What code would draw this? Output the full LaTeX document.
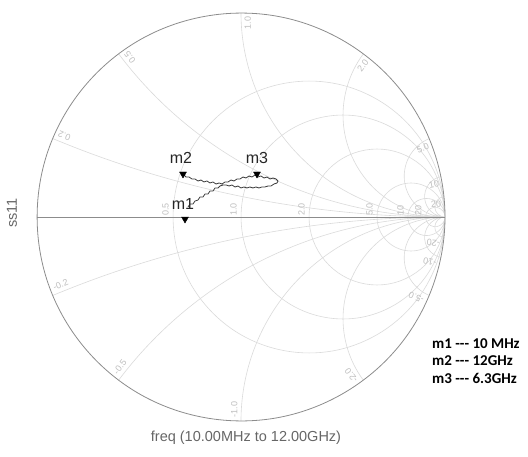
\documentclass[border=0pt]{standalone}
\usepackage{pgfplots}
\pgfplotsset{compat=1.18}
\usepgfplotslibrary{smithchart}
\usepackage{fontspec}
\setmainfont{Liberation Sans}
\newfontfamily\legfont{Carlito}
\definecolor{gridc}{RGB}{218,218,218}
\definecolor{labc}{RGB}{190,190,190}
\definecolor{rimc}{RGB}{140,140,140}
\definecolor{tracec}{RGB}{60,60,60}
\begin{document}
\begin{tikzpicture}[x=1pt,y=1pt]
\path[use as bounding box] (0,0) rectangle (528,456);
\begin{smithchart}[
  at={(241pt,239pt)}, anchor=center,
  scale only axis, width=408pt, height=408pt,
  show origin=false,
  show origin code/.code={},
  xtick={0.5,1,2,5,10,20},
  xticklabels={0.5,1.0,2.0,5.0,10,20},
  ytick={-20,-10,-5,-2,-1,-0.5,-0.2,0.2,0.5,1,2,5,10,20},
  yticklabels={-20,-10,-5.0,-2.0,-1.0,-0.5,-0.2,0.2,0.5,1.0,2.0,5.0,10,20},
  major tick length=0pt,
  grid style={gridc, line width=0.6pt},
  major grid style={gridc, line width=0.6pt},
  axis line style={rimc, line width=0.8pt},
  ticklabel style={font=\fontsize{9}{10}\selectfont, text=labc},
  xticklabel style={rotate=90, anchor=south west, inner sep=1pt, yshift=3pt},
]
\addplot[is smithchart cs, rimc, line width=0.8pt] coordinates {(-1,0) (1,0)};
\addplot[is smithchart cs, tracec, line width=0.8pt] coordinates {
(-0.2598,0.0490) (-0.2500,0.0637) (-0.2353,0.0637) (-0.2255,0.0784) (-0.2108,0.0833)
(-0.2010,0.0980) (-0.1863,0.0980) (-0.1765,0.1127) (-0.1618,0.1127) (-0.1520,0.1275)
(-0.1373,0.1275) (-0.1275,0.1422) (-0.1127,0.1422) (-0.1029,0.1520) (-0.0882,0.1569)
(-0.0735,0.1569) (-0.0588,0.1520) (-0.0441,0.1569) (-0.0294,0.1471) (-0.0147,0.1520)
(0.0000,0.1422) (0.0147,0.1471) (0.0294,0.1422) (0.0441,0.1471) (0.0588,0.1422)
(0.0735,0.1471) (0.0882,0.1422) (0.1029,0.1471) (0.1176,0.1471) (0.1324,0.1520)
(0.1471,0.1520) (0.1618,0.1618) (0.1765,0.1667) (0.1814,0.1765)
(0.1716,0.1863) (0.1569,0.1912) (0.1422,0.1863) (0.1275,0.1961) (0.1127,0.1912)
(0.0980,0.2010) (0.0833,0.1961) (0.0686,0.2059) (0.0539,0.1961) (0.0392,0.2010)
(0.0245,0.1912) (0.0098,0.1961) (-0.0049,0.1863) (-0.0196,0.1863) (-0.0343,0.1765)
(-0.0490,0.1814) (-0.0637,0.1716) (-0.0784,0.1716) (-0.0931,0.1618)
(-0.1078,0.1667) (-0.1225,0.1618) (-0.1373,0.1716) (-0.1520,0.1667) (-0.1667,0.1765)
(-0.1814,0.1716) (-0.1961,0.1814) (-0.2108,0.1765) (-0.2255,0.1863) (-0.2402,0.1863)
(-0.2549,0.1961) (-0.2696,0.1961) (-0.2794,0.2059)
};
\addplot[is smithchart cs, only marks, mark=triangle*, mark size=4pt,
  mark options={rotate=180, fill=black, draw=black}] coordinates {
(-0.2745,-0.0098) (-0.2843,0.2108) (0.0784,0.2108)
};
\end{smithchart}
\node[font=\fontsize{16}{18}\selectfont, text=black!85] at (183,252) {m1};
\node[font=\fontsize{16}{18}\selectfont, text=black!85] at (181,298) {m2};
\node[font=\fontsize{16}{18}\selectfont, text=black!85] at (257,298) {m3};
\node[rotate=90, font=\fontsize{14.5}{16}\selectfont, text=black!60] at (12,243) {ss11};
\node[font=\fontsize{14.5}{16}\selectfont, text=black!60] at (246,18) {freq (10.00MHz to 12.00GHz)};
\node[anchor=west, inner sep=0pt, font=\legfont\bfseries\fontsize{15}{17}\selectfont] at (432,112) {m1 --- 10 MHz};
\node[anchor=west, inner sep=0pt, font=\legfont\bfseries\fontsize{15}{17}\selectfont] at (432,95) {m2 --- 12GHz};
\node[anchor=west, inner sep=0pt, font=\legfont\bfseries\fontsize{15}{17}\selectfont] at (432,78) {m3 --- 6.3GHz};
\end{tikzpicture}
\end{document}
